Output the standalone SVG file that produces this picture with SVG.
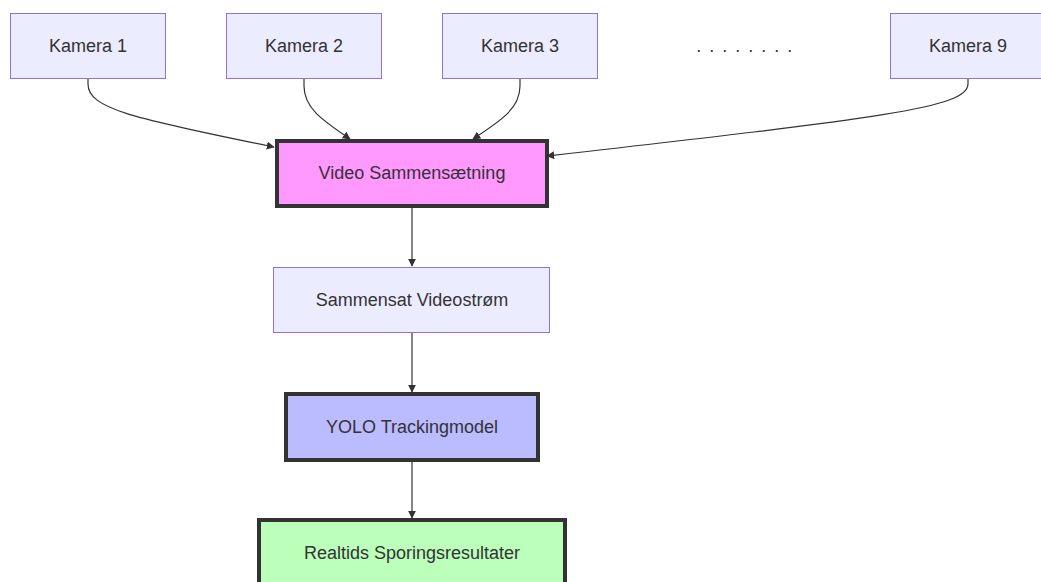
<svg xmlns="http://www.w3.org/2000/svg" width="1041" height="582" viewBox="0 0 1041 582">
<style>
text{font-family:"Liberation Sans","DejaVu Sans",sans-serif;font-size:18px;fill:#333;text-anchor:middle;dominant-baseline:central}
.def{fill:#ECECFF;stroke:#9370DB;stroke-width:1}
.bold{stroke:#333;stroke-width:4}
.edge{fill:none;stroke:#333;stroke-width:1.2}
</style>
<defs>
<marker id="arr" viewBox="0 0 10 10" refX="9" refY="5" markerWidth="8" markerHeight="8" markerUnits="userSpaceOnUse" orient="auto"><path d="M0,0 L10,5 L0,10 z" fill="#333"/></marker>
</defs>
<rect width="1041" height="582" fill="#fff"/>
<g id="connectors">
<path class="edge" marker-end="url(#arr)" d="M88,79 L88,84 C88,108 130,118 274,147"/>
<path class="edge" marker-end="url(#arr)" d="M304,79 L304,86 C304,108 322,120 350,139"/>
<path class="edge" marker-end="url(#arr)" d="M520,79 L520,86 C520,108 502,120 473,139"/>
<path class="edge" marker-end="url(#arr)" d="M968,79 L968,84 C968,108 880,118 547,156"/>
<path class="edge" marker-end="url(#arr)" d="M412,208 L412,266"/>
<path class="edge" marker-end="url(#arr)" d="M412,333 L412,392"/>
<path class="edge" marker-end="url(#arr)" d="M412,462 L412,518"/>
</g>
<g id="kamera1"><rect class="def" x="10.5" y="13.5" width="155" height="65"/><text x="88" y="46">Kamera 1</text></g>
<g id="kamera2"><rect class="def" x="226.5" y="13.5" width="155" height="65"/><text x="304" y="46">Kamera 2</text></g>
<g id="kamera3"><rect class="def" x="442.5" y="13.5" width="155" height="65"/><text x="520" y="46">Kamera 3</text></g>
<g id="dots"><text x="745" y="46" letter-spacing="1.5">. . . . . . . .</text></g>
<g id="kamera9"><rect class="def" x="890.5" y="13.5" width="155" height="65"/><text x="968" y="46">Kamera 9</text></g>
<g id="video"><rect class="bold" x="277" y="141" width="270" height="65" fill="#FF99FF"/><text x="412" y="173">Video Sammensætning</text></g>
<g id="stream"><rect class="def" x="273.5" y="267.5" width="276" height="65"/><text x="412" y="300">Sammensat Videostrøm</text></g>
<g id="yolo"><rect class="bold" x="286" y="394" width="252" height="66" fill="#BBBBFF"/><text x="412" y="427">YOLO Trackingmodel</text></g>
<g id="result"><rect class="bold" x="259" y="520" width="306" height="70" fill="#BBFFBB"/><text x="412" y="553">Realtids Sporingsresultater</text></g>
</svg>
